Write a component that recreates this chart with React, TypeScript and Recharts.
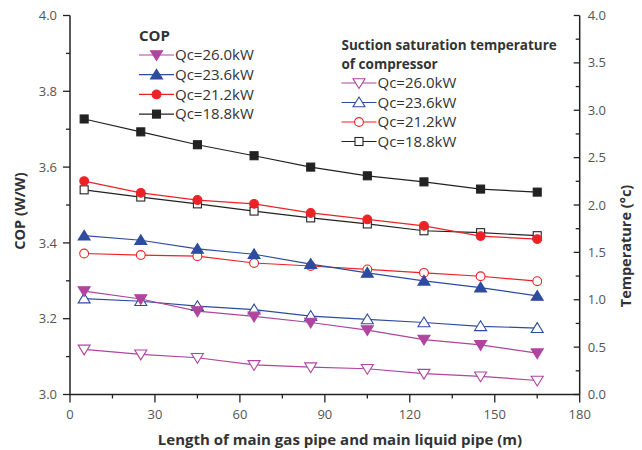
import React from "react";
import { ComposedChart, Line, XAxis, YAxis } from "recharts";

// ---- data ----
const lengths = [5, 25, 45, 65, 85, 105, 125, 145, 165];
const copQc260 = [3.273, 3.252, 3.22, 3.206, 3.19, 3.17, 3.145, 3.131, 3.109];
const copQc236 = [3.419, 3.407, 3.384, 3.37, 3.344, 3.321, 3.3, 3.282, 3.26];
const copQc212 = [3.563, 3.532, 3.513, 3.503, 3.479, 3.462, 3.445, 3.418, 3.41];
const copQc188 = [3.727, 3.693, 3.659, 3.63, 3.6, 3.577, 3.561, 3.542, 3.534];
const tempQc260 = [0.476, 0.424, 0.388, 0.312, 0.288, 0.272, 0.22, 0.192, 0.148];
const tempQc236 = [1.012, 0.984, 0.932, 0.896, 0.828, 0.792, 0.76, 0.72, 0.7];
const tempQc212 = [1.488, 1.472, 1.46, 1.388, 1.356, 1.32, 1.284, 1.248, 1.196];
const tempQc188 = [2.16, 2.084, 2.012, 1.936, 1.864, 1.8, 1.728, 1.708, 1.676];

const seriesNames = ["Qc=26.0kW", "Qc=23.6kW", "Qc=21.2kW", "Qc=18.8kW"];
const xTicks = [0, 15, 30, 45, 60, 75, 90, 105, 120, 135, 150, 165, 180];
const copTicks = [3.0, 3.1, 3.2, 3.3, 3.4, 3.5, 3.6, 3.7, 3.8, 3.9, 4.0];
const tempTicks = [0, 0.25, 0.5, 0.75, 1.0, 1.25, 1.5, 1.75, 2.0, 2.25, 2.5, 2.75, 3.0, 3.25, 3.5, 3.75, 4.0];

const legendTitleCop = "COP";
const legendTitleTemp = ["Suction saturation temperature", "of compressor"];
const xTitle = "Length of main gas pipe and main liquid pipe (m)";
const yLeftTitle = "COP (W/W)";
const yRightTitle = "Temperature (°c)";

// ---- styles ----
const COLORS = ["#b0449f", "#2e4c9e", "#ec2227", "#222222"];
const SHAPES = ["down", "up", "circle", "square"];
const AXIS = "#222";
const FONT = "'Open Sans', 'DejaVu Sans', sans-serif";
const TICK_FILL = "#555";
const TITLE_FILL = "#333";

const data = lengths.map((len, i) => ({
  len,
  c0: copQc260[i],
  c1: copQc236[i],
  c2: copQc212[i],
  c3: copQc188[i],
  t0: tempQc260[i],
  t1: tempQc236[i],
  t2: tempQc212[i],
  t3: tempQc188[i],
}));

function Marker({ cx, cy, shape, color, filled }: any) {
  if (cx == null || cy == null) return null;
  const fill = filled ? color : "#fff";
  const sw = 1.1;
  if (shape === "down") {
    return (
      <polygon
        points={`${cx - 6},${cy - 4.3} ${cx + 6},${cy - 4.3} ${cx},${cy + 5.5}`}
        fill={fill}
        stroke={color}
        strokeWidth={sw}
      />
    );
  }
  if (shape === "up") {
    return (
      <polygon
        points={`${cx - 6},${cy + 4.3} ${cx + 6},${cy + 4.3} ${cx},${cy - 5.5}`}
        fill={fill}
        stroke={color}
        strokeWidth={sw}
      />
    );
  }
  if (shape === "circle") {
    return <circle cx={cx} cy={cy} r={4.4} fill={fill} stroke={color} strokeWidth={sw} />;
  }
  return <rect x={cx - 4} y={cy - 4} width={8} height={8} fill={fill} stroke={color} strokeWidth={sw} />;
}

const makeDot = (idx: number, filled: boolean) => (p: any) => (
  <Marker key={`${idx}-${filled}-${p.index}`} cx={p.cx} cy={p.cy} shape={SHAPES[idx]} color={COLORS[idx]} filled={filled} />
);

const BottomTick = (props: any) => {
  const { x, y, payload } = props;
  const v = payload.value;
  const major = Math.round(v) % 30 === 0;
  return (
    <g>
      <line x1={x} y1={y} x2={x} y2={y + (major ? 8 : 4)} stroke={AXIS} strokeWidth={1.3} />
      {major && (
        <text x={x} y={y + 24.5} textAnchor="middle" fontFamily={FONT} fontSize={13} fill={TICK_FILL}>
          {v}
        </text>
      )}
    </g>
  );
};

const TopTick = (props: any) => {
  const { x, y, payload } = props;
  const major = Math.round(payload.value) % 30 === 0;
  return <line x1={x} y1={y} x2={x} y2={y + (major ? 6 : 4)} stroke={AXIS} strokeWidth={1.3} />;
};

const LeftTick = (props: any) => {
  const { x, y, payload } = props;
  const v = payload.value;
  const major = Math.round(v * 10) % 2 === 0;
  return (
    <g>
      <line x1={x} y1={y} x2={x - (major ? 7 : 4)} y2={y} stroke={AXIS} strokeWidth={1.3} />
      {major && (
        <text x={x - 13} y={y + 4.6} textAnchor="end" fontFamily={FONT} fontSize={13} fill={TICK_FILL}>
          {v.toFixed(1)}
        </text>
      )}
    </g>
  );
};

const RightTick = (props: any) => {
  const { x, y, payload } = props;
  const v = payload.value;
  const major = Math.round(v * 4) % 2 === 0;
  return (
    <g>
      <line x1={x} y1={y} x2={x - (major ? 6 : 4)} y2={y} stroke={AXIS} strokeWidth={1.3} />
      {major && (
        <text x={x + 8} y={y + 4.6} textAnchor="start" fontFamily={FONT} fontSize={13} fill={TICK_FILL}>
          {v.toFixed(1)}
        </text>
      )}
    </g>
  );
};

function LegendRow({ x, y, idx, filled }: any) {
  return (
    <g>
      <line x1={x} y1={y} x2={x + 35} y2={y} stroke={COLORS[idx]} strokeWidth={1.2} />
      <Marker cx={x + 17.5} cy={y} shape={SHAPES[idx]} color={COLORS[idx]} filled={filled} />
      <text x={x + 36} y={y + 5.3} fontFamily={FONT} fontSize={15} fill="#333">
        {seriesNames[idx]}
      </text>
    </g>
  );
}

function ChartLegends() {
  return (
    <g>
      <text x={139} y={41} fontFamily={FONT} fontWeight={700} fontSize={15} fill={TITLE_FILL}>
        {legendTitleCop}
      </text>
      {[0, 1, 2, 3].map((i) => (
        <LegendRow key={`a${i}`} x={139} y={55 + i * 19.7} idx={i} filled={true} />
      ))}
      <text x={341.5} y={50} fontFamily={FONT} fontWeight={700} fontSize={13.5} fill={TITLE_FILL}>
        {legendTitleTemp[0]}
      </text>
      <text x={341.5} y={68.5} fontFamily={FONT} fontWeight={700} fontSize={13.5} fill={TITLE_FILL}>
        {legendTitleTemp[1]}
      </text>
      {[0, 1, 2, 3].map((i) => (
        <LegendRow key={`b${i}`} x={341.5} y={83 + i * 19.5} idx={i} filled={false} />
      ))}
      <text x={340} y={445} textAnchor="middle" fontFamily={FONT} fontWeight={700} fontSize={15} fill={TITLE_FILL}>
        {xTitle}
      </text>
      <text
        x={0}
        y={0}
        transform="translate(24.5,211) rotate(-90)"
        textAnchor="middle"
        fontFamily={FONT}
        fontWeight={700}
        fontSize={14.5}
        fill={TITLE_FILL}
      >
        {yLeftTitle}
      </text>
      <text
        x={0}
        y={0}
        transform="translate(630.5,246) rotate(-90)"
        textAnchor="middle"
        fontFamily={FONT}
        fontWeight={700}
        fontSize={14.5}
        fill={TITLE_FILL}
      >
        {yRightTitle}
      </text>
    </g>
  );
}

export default function App() {
  return (
    <div style={{ position: "absolute", left: 0, top: 0, width: 642, height: 450, background: "#fff" }}>
      <ComposedChart width={642} height={450} data={data} margin={{ top: 15.5, right: 0, bottom: 0, left: 0 }}>
        <XAxis
          dataKey="len"
          type="number"
          domain={[0, 180]}
          ticks={xTicks}
          interval={0}
          height={55.5}
          axisLine={{ stroke: AXIS, strokeWidth: 1.5 }}
          tickLine={false}
          tickSize={0}
          tickMargin={0}
          tick={<BottomTick />}
          xAxisId="bottom"
        />
        <XAxis
          dataKey="len"
          type="number"
          domain={[0, 180]}
          ticks={xTicks}
          interval={0}
          orientation="top"
          height={0}
          axisLine={{ stroke: AXIS, strokeWidth: 1.5 }}
          tickLine={false}
          tickSize={0}
          tickMargin={0}
          tick={<TopTick />}
          xAxisId="top"
        />
        <YAxis
          yAxisId="left"
          type="number"
          domain={[3, 4]}
          ticks={copTicks}
          interval={0}
          width={70}
          axisLine={{ stroke: AXIS, strokeWidth: 1.5 }}
          tickLine={false}
          tickSize={0}
          tickMargin={0}
          tick={<LeftTick />}
          allowDataOverflow
        />
        <YAxis
          yAxisId="right"
          orientation="right"
          type="number"
          domain={[0, 4]}
          ticks={tempTicks}
          interval={0}
          width={62.3}
          axisLine={{ stroke: AXIS, strokeWidth: 1.5 }}
          tickLine={false}
          tickSize={0}
          tickMargin={0}
          tick={<RightTick />}
          allowDataOverflow
        />
        {[3, 2, 1, 0].map((i) => (
          <Line
            key={`t${i}`}
            xAxisId="bottom"
            yAxisId="right"
            dataKey={`t${i}`}
            stroke={COLORS[i]}
            strokeWidth={1.2}
            dot={makeDot(i, false)}
            activeDot={false}
            isAnimationActive={false}
          />
        ))}
        {[3, 2, 1, 0].map((i) => (
          <Line
            key={`c${i}`}
            xAxisId="bottom"
            yAxisId="left"
            dataKey={`c${i}`}
            stroke={COLORS[i]}
            strokeWidth={1.2}
            dot={makeDot(i, true)}
            activeDot={false}
            isAnimationActive={false}
          />
        ))}
        <ChartLegends />
      </ComposedChart>
    </div>
  );
}
